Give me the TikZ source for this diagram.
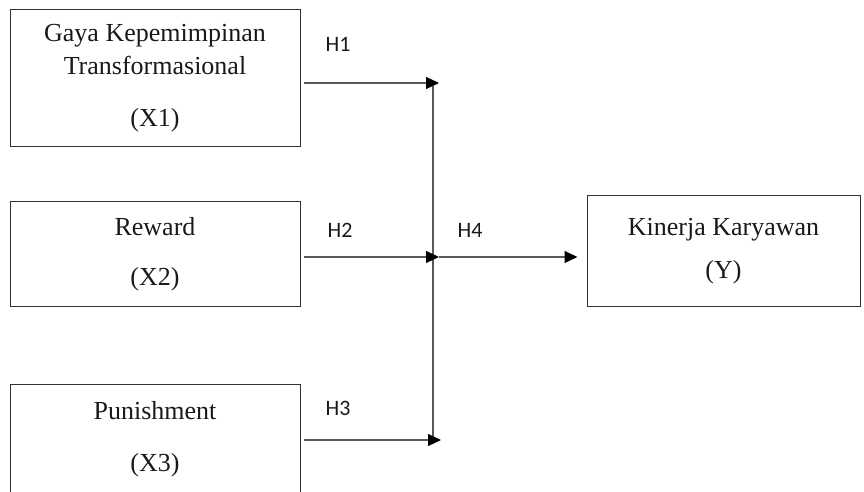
\documentclass[tikz,border=0pt]{standalone}
\usepackage{fontspec}
\setmainfont{Liberation Serif}
\newfontfamily\hypfont{Carlito}
\usetikzlibrary{arrows.meta}
\tikzstyle{varbox} = [rectangle, draw=black!80, line width=0.5pt, minimum width=145pt, text centered, align=center, inner sep=0pt, text=black!90, font=\fontsize{13}{16.5}\selectfont]
\tikzstyle{hyp} = [inner sep=0pt, text=black!90, font=\hypfont\fontsize{11}{13}\selectfont]
\tikzstyle{connector} = [line width=0.6pt, draw=black!65]
\tikzstyle{arrow} = [connector, -{Triangle[length=6.5pt,width=6pt,color=black]}, shorten <=1.5pt]

\begin{document}
\begin{tikzpicture}[x=0.5pt, y=-0.5pt]
        \useasboundingbox (0,0) rectangle (864,492);
        \clip (0,0) rectangle (864,492);

        \node (x1) [varbox, minimum height=68.5pt] at (155,78.5) {Gaya Kepemimpinan\\Transformasional\\[9.5pt](X1)};
        \node (x2) [varbox, minimum height=52.5pt] at (155,254.5) {Reward\\[8.5pt](X2)};
        \node (x3) [varbox, minimum height=54pt] at (155,439) {Punishment\\[9.5pt](X3)};
        \node (y) [varbox, minimum width=136.5pt, minimum height=55.5pt] at (723.5,251) {Kinerja Karyawan\\[5pt](Y)};

        \node (h1) [hyp] at (338,44) {H1};
        \node (h2) [hyp] at (340,230) {H2};
        \node (h3) [hyp] at (338,408) {H3};
        \node (h4) [hyp] at (470,230) {H4};

        \coordinate (j1) at (439,83);
        \coordinate (j2) at (439,257);
        \coordinate (j3) at (441,440);
        \coordinate (vtop) at (433,86);
        \coordinate (vbot) at (433,440);

        \draw [connector] (vtop) -- (vbot);
        \draw [arrow] (x1.east |- j1) -- (j1);
        \draw [arrow] (x2.east |- j2) -- (j2);
        \draw [arrow] (x3.east |- j3) -- (j3);
        \draw [arrow, shorten <=0pt] (j2) -- ([xshift=-4.5pt]y.west |- j2);
    \end{tikzpicture}
\end{document}
